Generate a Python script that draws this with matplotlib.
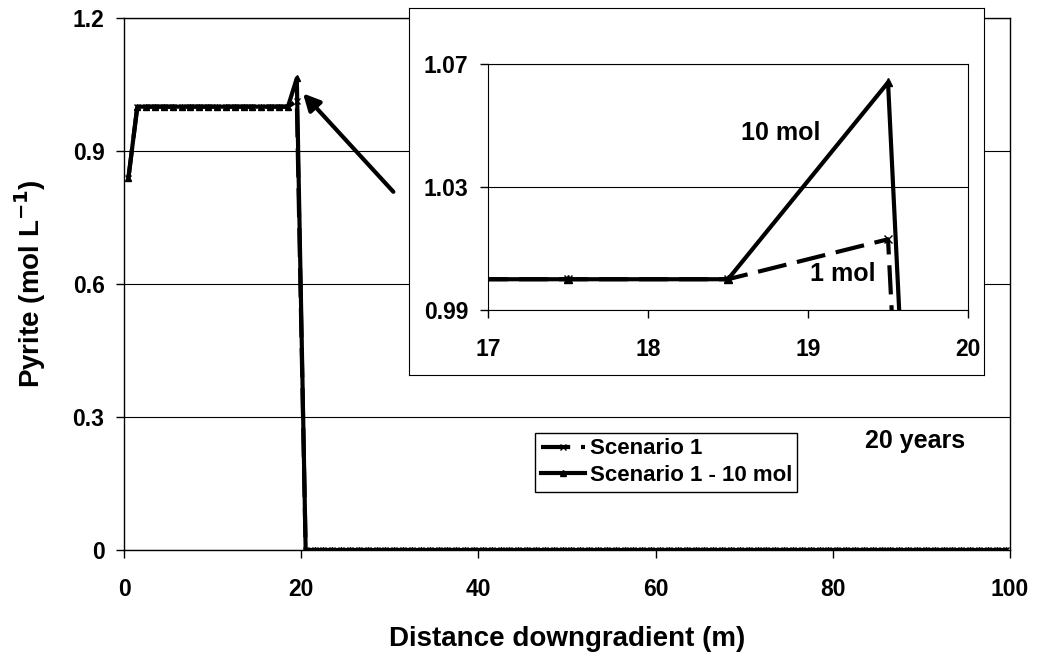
import numpy as np
import matplotlib.pyplot as plt

plt.rcParams['font.family'] = ['Liberation Sans', 'DejaVu Sans']
plt.rcParams['font.weight'] = 'bold'

# model cells, 1 m each, values at cell centres
distance = np.arange(0.5, 100.0, 1.0)
scenario1 = [0.84] + [1.0] * 18 + [1.013] + [0.0] * 80
scenario1_10mol = [0.84] + [1.0] * 18 + [1.064] + [0.0] * 80

main_xticks = [0, 20, 40, 60, 80, 100]
main_yticks = [0, 0.3, 0.6, 0.9, 1.2]
inset_xticks = [17, 18, 19, 20]
inset_yticks = [0.99, 1.03, 1.07]

fig = plt.figure(figsize=(10.37, 6.53), dpi=100)
ax = fig.add_axes([0.1196, 0.1577, 0.8544, 0.8147])

ax.plot(distance, scenario1_10mol, color='black', lw=3, marker='^', ms=5,
        label='Scenario 1 - 10 mol', zorder=3)
ax.plot(distance, scenario1, color='black', lw=3, marker='x', ms=5, mew=1,
        dashes=(7, 2.6), label='Scenario 1', zorder=4)

ax.set_xlim(0, 100)
ax.set_ylim(0, 1.2)
ax.set_xticks(main_xticks)
ax.set_yticks(main_yticks)
ax.set_yticklabels(['0', '0.3', '0.6', '0.9', '1.2'])
ax.yaxis.grid(True, color='black', lw=0.8)
ax.tick_params(direction='out', length=6, width=1, labelsize=16.5)
ax.tick_params(axis='x', pad=14)
ax.tick_params(axis='y', pad=8)
for s in ax.spines.values():
    s.set_linewidth(1)
ax.set_xlabel('Distance downgradient (m)', fontsize=20, fontweight='bold', labelpad=18)
ax.set_ylabel('Pyrite (mol L$^{\\mathbf{-1}}$)', fontsize=20, fontweight='bold', labelpad=18)

ax.annotate('', xy=(20.2, 1.03), xytext=(30.4, 0.808),
            arrowprops=dict(arrowstyle='-|>,head_length=1.0,head_width=0.5',
                            lw=3, color='black', shrinkA=0, shrinkB=0))

ax.text(89.3, 0.245, '20 years', fontsize=18, fontweight='bold', ha='center', va='center')

handles, labels = ax.get_legend_handles_labels()
leg = ax.legend(handles[::-1], labels[::-1], loc='upper left',
                bbox_to_anchor=(0.516, 0.337), bbox_transform=fig.transFigure,
                fancybox=False, framealpha=1, edgecolor='black', fontsize=16,
                handlelength=2.0, borderpad=0.25, labelspacing=0.25, handletextpad=0.2,
                borderaxespad=0)
leg.get_frame().set_linewidth(1)

# white box behind the inset
box = fig.add_axes([0.3944, 0.4257, 0.5545, 0.562])
box.set_xticks([])
box.set_yticks([])
box.set_facecolor('white')
box.set_zorder(2)

ins = fig.add_axes([0.4706, 0.5253, 0.4629, 0.3767])
ins.set_zorder(3)
ins.plot(distance, scenario1_10mol, color='black', lw=3, marker='^', ms=6)
ins.plot(distance, scenario1, color='black', lw=3, marker='x', ms=6, mew=1,
         dashes=(7, 2.6))
ins.set_xlim(17, 20)
ins.set_ylim(0.99, 1.07)
ins.set_xticks(inset_xticks)
ins.set_yticks(inset_yticks)
ins.yaxis.grid(True, color='black', lw=0.8)
ins.tick_params(direction='out', length=6, width=1, labelsize=16.5)
ins.tick_params(axis='x', pad=14)
ins.tick_params(axis='y', pad=8)
ins.text(18.83, 1.0476, '10 mol', fontsize=18, fontweight='bold', ha='center', va='center')
ins.text(19.22, 1.0017, '1 mol', fontsize=18, fontweight='bold', ha='center', va='center')

fig.savefig('out.png', dpi=100)
